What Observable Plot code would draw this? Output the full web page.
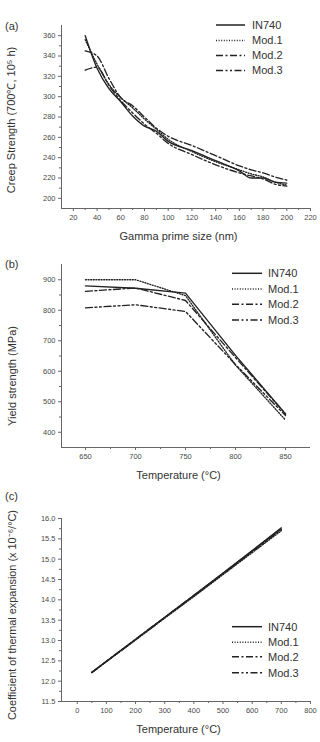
<!DOCTYPE html>
<html>
<head>
<meta charset="utf-8">
<script src="https://cdn.jsdelivr.net/npm/d3@7"></script>
<script src="https://cdn.jsdelivr.net/npm/@observablehq/plot@0.6"></script>
<style>
  html, body { margin: 0; padding: 0; background: #fff; }
  #fig { position: relative; width: 320px; height: 742px; font-family: "Liberation Sans", Arial, sans-serif; }
  #fig svg.plot { display: block; }
  .overlay { position: absolute; left: 0; top: 0; overflow: visible; pointer-events: none; }
</style>
</head>
<body>
<div id="fig"></div>
<script>
// Series names and line styles shared by the three panels
const seriesNames = ["IN740", "Mod.1", "Mod.2", "Mod.3"];
const dashes = ["none", "1,1.6", "7,2.5,2,2.5", "7,2.5,2,2.5,2,2.5"];

// (a) Creep strength vs gamma prime size
const sizeNm = [30, 40, 50, 60, 70, 80, 90, 100, 120, 140, 160, 170, 180, 190, 200];
const creepIN740 = [360, 328, 308, 295, 281, 271, 266, 256, 247, 237, 227, 220, 220, 216, 215];
const creepMod1  = [356, 332, 312, 299, 289, 278, 268, 258, 246, 236, 228, 224, 221, 216, 213];
const creepMod2  = [345, 340, 318, 299, 291, 280, 269, 261, 252, 242, 232, 228, 225, 221, 218];
const creepMod3  = [326, 329, 311, 296, 284, 273, 264, 254, 243, 233, 225, 222, 219, 214, 212];
const sizeTicks = [20, 40, 60, 80, 100, 120, 140, 160, 180, 200, 220];
const creepTicks = [200, 220, 240, 260, 280, 300, 320, 340, 360];

// (b) Yield strength vs temperature
const yieldTemp = [650, 700, 750, 800, 850];
const yieldIN740 = [880, 872, 856, 652, 460];
const yieldMod1  = [900, 900, 848, 620, 440];
const yieldMod2  = [862, 873, 832, 645, 460];
const yieldMod3  = [808, 818, 796, 622, 455];
const yieldTempTicks = [650, 700, 750, 800, 850];
const yieldTicks = [400, 500, 600, 700, 800, 900];

// (c) Coefficient of thermal expansion vs temperature
const cteTemp = [50, 100, 200, 300, 400, 500, 600, 700];
const cteIN740 = [12.22, 12.49, 13.03, 13.57, 14.11, 14.66, 15.21, 15.77];
const cteMod1  = [12.21, 12.48, 13.01, 13.55, 14.08, 14.62, 15.16, 15.70];
const cteMod2  = [12.22, 12.49, 13.03, 13.57, 14.11, 14.65, 15.20, 15.75];
const cteMod3  = [12.21, 12.48, 13.02, 13.56, 14.09, 14.64, 15.18, 15.73];
const cteTempTicks = [0, 100, 200, 300, 400, 500, 600, 700, 800];
const cteTicks = [11.5, 12.0, 12.5, 13.0, 13.5, 14.0, 14.5, 15.0, 15.5, 16.0];

function rows(xs, ys) { return xs.map((x, i) => ({x, y: ys[i]})); }

// Minor ticks halfway between consecutive major ticks
function minorBetween(ticks) {
  const out = [];
  for (let i = 0; i < ticks.length - 1; i++) out.push((ticks[i] + ticks[i + 1]) / 2);
  return out;
}

const ink = "#222";
const axisInk = "#666";
const tickText = "#4a4a4a";
const font = "'Liberation Sans', Arial, sans-serif";

function panel(o) {
  const lines = o.series.map((ys, i) =>
    Plot.line(rows(o.xs, ys), {x: "x", y: "y", stroke: ink, strokeWidth: 1.35,
      strokeDasharray: dashes[i], curve: o.curve || "linear"}));
  return Plot.plot({
    width: 320, height: o.height,
    marginLeft: 61, marginRight: 10, marginTop: o.marginTop, marginBottom: o.marginBottom,
    style: {fontFamily: font, background: "#fff"},
    x: {domain: o.xDomain},
    y: {domain: o.yDomain},
    marks: [
      Plot.ruleX([o.xDomain[0]], {stroke: axisInk}),
      Plot.ruleY([o.yDomain[0]], {stroke: axisInk}),
      Plot.axisX({ticks: o.xTicks, tickSize: 3, tickPadding: 3, fontSize: 7.5, stroke: axisInk, fill: tickText, label: null, tickFormat: o.xFormat || (d => String(d))}),
      Plot.axisX({ticks: minorBetween(o.xTicks), tickSize: 2, stroke: axisInk, label: null, tickFormat: () => ""}),
      Plot.axisY({ticks: o.yTicks, tickSize: 3, tickPadding: 3, fontSize: 7.5, stroke: axisInk, fill: tickText, label: null, tickFormat: o.yFormat || (d => String(d))}),
      Plot.axisY({ticks: minorBetween(o.yTicks), tickSize: 2, stroke: axisInk, label: null, tickFormat: () => ""}),
      ...lines,
      Plot.text([o.xLabel], {text: d => d, frameAnchor: "bottom", dx: -7.5, dy: 31, fontSize: 11, fill: "#333"})
    ]
  });
}

const fig = document.getElementById("fig");

fig.append(panel({
  height: 245, marginTop: 25, marginBottom: 37,
  xs: sizeNm, series: [creepIN740, creepMod1, creepMod2, creepMod3], curve: "monotone-x",
  xDomain: [10, 220], yDomain: [190, 370], xTicks: sizeTicks, yTicks: creepTicks,
  xLabel: "Gamma prime size (nm)"
}));
fig.append(panel({
  height: 240, marginTop: 19, marginBottom: 38,
  xs: yieldTemp, series: [yieldIN740, yieldMod1, yieldMod2, yieldMod3],
  xDomain: [626, 875], yDomain: [350, 950], xTicks: yieldTempTicks, yTicks: yieldTicks,
  xLabel: "Temperature (\u00B0C)"
}));
fig.append(panel({
  height: 257, marginTop: 33, marginBottom: 41,
  xs: cteTemp, series: [cteIN740, cteMod1, cteMod2, cteMod3],
  xDomain: [-54, 800], yDomain: [11.5, 16.0], xTicks: cteTempTicks, yTicks: cteTicks,
  yFormat: d3.format(".1f"),
  xLabel: "Temperature (\u00B0C)"
}));

// Overlay for panel tags, vertical axis titles and legends
const overlay = d3.create("svg").attr("class", "overlay").attr("width", 320).attr("height", 742)
  .attr("font-family", font);

[["(a)", 5, 26], ["(b)", 5, 264], ["(c)", 5, 496]].forEach(([t, x, y]) => {
  overlay.append("text").attr("x", x).attr("y", y).attr("dy", "0.35em")
    .attr("font-size", 11).attr("fill", "#333").text(t);
});

[
  ["Creep Strength (700\u2103, 10\u2075 h)", 11, 120, null],
  ["Yield strength (MPa)", 12, 376, null],
  ["Coefficient of thermal expansion (x 10\u207B\u2076/\u00B0C)", 12, 615, 210]
].forEach(([t, x, y, len]) => {
  const el = overlay.append("text")
    .attr("transform", `translate(${x},${y}) rotate(-90)`)
    .attr("text-anchor", "middle").attr("dy", "0.35em")
    .attr("font-size", 11).attr("fill", "#333").text(t);
  if (len) el.attr("textLength", len).attr("lengthAdjust", "spacingAndGlyphs");
});

function legend(x0, x1, tx, ys) {
  seriesNames.forEach((name, i) => {
    overlay.append("line").attr("x1", x0).attr("x2", x1).attr("y1", ys[i]).attr("y2", ys[i])
      .attr("stroke", ink).attr("stroke-width", 1.5).attr("stroke-dasharray", dashes[i]);
    overlay.append("text").attr("x", tx).attr("y", ys[i]).attr("dy", "0.35em")
      .attr("font-size", 11).attr("fill", "#333").text(name);
  });
}
legend(216, 245, 252, [25, 40.5, 55.5, 70.5]);
legend(232, 262, 268, [273.3, 289, 304.3, 320]);
legend(232, 262, 268, [626.7, 642.3, 656.7, 672.7]);

fig.append(overlay.node());
</script>
</body>
</html>
